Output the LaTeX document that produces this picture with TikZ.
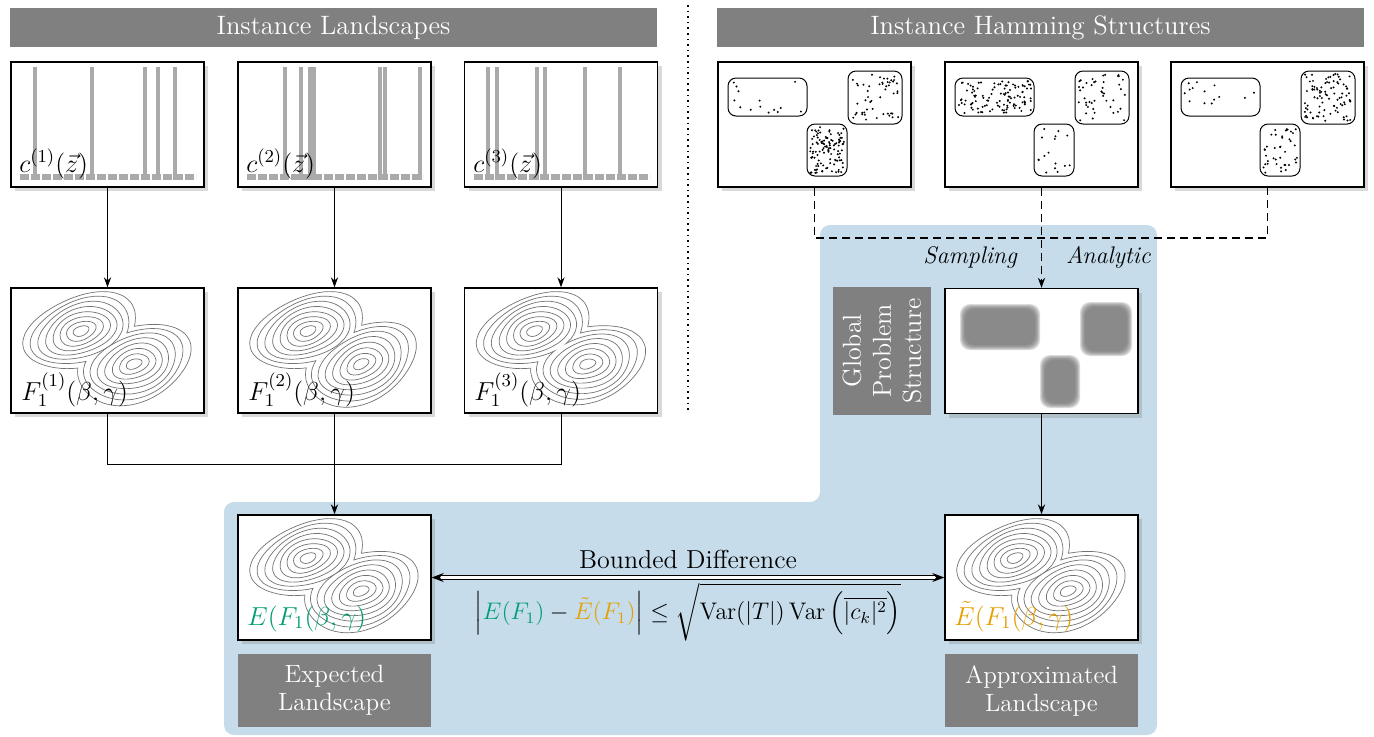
\RequirePackage{fix-cm}
\documentclass[tikz,border=0pt]{standalone}
\usepackage{amsmath}
\usepackage{tikz}
\usetikzlibrary{positioning,shadows,arrows.meta}

\definecolor{regionblue}{RGB}{198,220,234}
\definecolor{tealgreen}{RGB}{0,158,115}
\definecolor{amber}{RGB}{230,159,0}
\definecolor{bargray}{RGB}{170,170,170}
\definecolor{labelgray}{RGB}{128,128,128}

\newcommand{\lobe}[6]{plot[smooth cycle, domain=0:345, samples=24, variable=\t]
  ({#1+(1+0.035*sin(3*\t+#6))*((#3)*cos(\t)*cos(#5)-(#4)*sin(\t)*sin(#5))},
   {#2-(1+0.035*sin(3*\t+#6))*((#3)*cos(\t)*sin(#5)+(#4)*sin(\t)*cos(#5))})}

\newcommand{\contourplot}[3]{%
  \begin{scope}[shift={(#1,#2)}]
    \foreach \k in {1,...,8}{
      \begin{scope}[even odd rule]
        \clip (-10,-10) rectangle (205,135) \lobe{123}{76}{7.2*\k+1}{4.7*\k}{#3}{40*\k+90};
        \draw[isoline] \lobe{70}{43}{7.2*\k+1}{4.3*\k+0.5}{20}{40*\k};
      \end{scope}
      \begin{scope}[even odd rule]
        \clip (-10,-10) rectangle (205,135) \lobe{70}{43}{7.2*\k+1}{4.3*\k+0.5}{20}{40*\k};
        \draw[isoline] \lobe{123}{76}{7.2*\k+1}{4.7*\k}{#3}{40*\k+90};
      \end{scope}
    }
  \end{scope}}

\newcommand{\costbars}[2]{%
  \draw[bargray, line width=3pt, dash pattern=on 4.7pt off 0.8pt] ({#1+9},177) -- ({#1+185},177);
  \foreach \b in {#2}{\fill[bargray] ({#1+\b-2},67) rectangle ({#1+\b+2},180);}}

\newcommand{\sprinkle}[5]{%
  \foreach \i in {1,...,#5}{\fill ({#1+3+rnd*(#3-#1-6)},{#2+3+rnd*(#4-#2-6)}) circle (0.55pt);}}

\newcommand{\hammingset}[5]{%
  \begin{scope}[shift={(#1,#2)}]
    \draw[cluster] (10,16) rectangle (89,54);
    \draw[cluster] (130,9) rectangle (184,62);
    \draw[cluster] (89,62) rectangle (129,114);
    \sprinkle{10}{16}{89}{54}{#3}
    \sprinkle{130}{9}{184}{62}{#4}
    \sprinkle{89}{62}{129}{114}{#5}
  \end{scope}}

\newcommand{\blurblob}[4]{%
  \foreach \s in {0,...,5}{\fill[black!55, opacity=0.25, rounded corners=5pt] ({#1+\s},{#2+\s}) rectangle ({#3-\s},{#4-\s});}}

\begin{document}
\begin{tikzpicture}[x=0.5pt, y=-0.5pt,
    panel/.style={rectangle, draw=black, line width=0.7pt, fill=white, minimum width=96.5pt, minimum height=62.5pt, inner sep=0pt, drop shadow={shadow xshift=2pt, shadow yshift=-2pt, opacity=0.3}},
    header/.style={rectangle, fill=labelgray, text=white, minimum width=323.5pt, minimum height=19.5pt, font=\fontsize{13.3}{16}\selectfont},
    tag/.style={rectangle, fill=labelgray, text=white, align=center, minimum width=96.5pt, minimum height=36.5pt, inner sep=0pt, font=\fontsize{12.5}{14}\selectfont},
    boxlabel/.style={anchor=base west, inner sep=0pt, font=\fontsize{13}{15}\selectfont},
    isoline/.style={draw=black!55, line width=0.35pt},
    cluster/.style={draw=black, line width=0.5pt, rounded corners=4pt},
    arrow/.style={-{Stealth[length=5pt, width=3.6pt]}},
    link/.style={line width=0.5pt},
    dashline/.style={line width=0.8pt, dash pattern=on 4pt off 2.5pt}
]
\useasboundingbox (0,0) rectangle (1374,736);
\pgfmathsetseed{12}

\fill[regionblue, rounded corners=5pt] (820,225) -- (1157,225) -- (1157,735) -- (224,735) -- (224,502) -- (820,502) -- cycle;

\coordinate (divtop) at (688,5);
\coordinate (divbot) at (688,410);
\draw[line width=0.8pt, dotted] (divtop) -- (divbot);

\node[header] (hdrland) at (333.5,27.5) {Instance Landscapes};
\node[header] (hdrham)  at (1040.5,27.5) {Instance Hamming Structures};

\node[panel] (c1) at (107.5,124.5) {};
\node[panel] (c2) at (334.5,124.5) {};
\node[panel] (c3) at (561,124.5) {};
\costbars{11}{24,81,134,147,164}
\costbars{238}{47,63,72,76,142,147,182}
\costbars{464.5}{23,32,72,80,120,155}
\node[boxlabel] (c1lab) at (19,172)  {$c^{(1)}(\vec{z})$};
\node[boxlabel] (c2lab) at (246,172) {$c^{(2)}(\vec{z})$};
\node[boxlabel] (c3lab) at (473,172) {$c^{(3)}(\vec{z})$};

\node[panel] (f1) at (107.5,350.5) {};
\node[panel] (f2) at (334.5,350.5) {};
\node[panel] (f3) at (561,350.5) {};
\contourplot{11}{288}{20}
\contourplot{238}{288}{26}
\contourplot{464.5}{288}{16}
\node[boxlabel] (f1lab) at (21,400)  {$F_1^{(1)}(\beta,\gamma)$};
\node[boxlabel] (f2lab) at (248,400) {$F_1^{(2)}(\beta,\gamma)$};
\node[boxlabel] (f3lab) at (474,400) {$F_1^{(3)}(\beta,\gamma)$};

\node[panel] (expbox) at (334.5,577.5) {};
\contourplot{238}{515}{20}
\node[boxlabel, text=tealgreen] (explab) at (247,625) {$E(F_1(\beta,\gamma)$};
\node[tag] (expname) at (334.5,690.5) {Expected\\Landscape};

\node[panel] (ham1) at (814.5,124.5) {};
\node[panel] (ham2) at (1041.5,124.5) {};
\node[panel] (ham3) at (1267.5,124.5) {};
\hammingset{718}{62}{14}{50}{110}
\hammingset{945}{62}{110}{45}{16}
\hammingset{1171}{62}{14}{90}{40}

\node[panel] (blur) at (1041.5,351) {};
\blurblob{960}{304}{1040}{350}
\blurblob{1080}{302}{1132}{356}
\blurblob{1040}{355}{1080}{408}
\node[tag, rotate=90, minimum width=64pt, minimum height=49pt, font=\fontsize{13}{15}\selectfont] (globalstruct) at (882,351) {Global\\Problem\\Structure};

\node[panel] (apxbox) at (1041.5,577.5) {};
\contourplot{945}{515}{20}
\node[boxlabel, text=amber] (apxlab) at (954,625) {$\tilde{E}(F_1(\beta,\gamma)$};
\node[tag] (apxname) at (1041.5,690.5) {Approximated\\Landscape};

\node[anchor=east, font=\fontsize{12}{14}\selectfont\itshape] (sampling) at (1024,257) {Sampling};
\node[anchor=west, font=\fontsize{12}{14}\selectfont\itshape] (analytic) at (1059,257) {Analytic};

\draw[link, arrow] (c1) -- (f1);
\draw[link, arrow] (c2) -- (f2);
\draw[link, arrow] (c3) -- (f3);

\coordinate (mergebar) at (334.5,464);
\draw[link] (f1.south) |- (mergebar) -| (f3.south);
\draw[line width=0.7pt, arrow] (f2) -- (expbox);

\coordinate (dashbar) at (1041.5,238);
\draw[dashline] (ham1.south) |- (dashbar) -| (ham3.south);
\draw[dashline, arrow] (ham2) -- (blur);
\draw[link, arrow] (blur) -- (apxbox);

\draw[{Stealth[length=6pt, width=4.5pt]}-{Stealth[length=6pt, width=4.5pt]}, double, double distance=1.2pt, line width=0.45pt] (expbox) -- (apxbox);
\node[inner sep=1pt, font=\fontsize{13}{15}\selectfont] (bdiff) at (688,559) {Bounded Difference};
\node[inner sep=1pt, font=\fontsize{12}{14}\selectfont] (bound) at (688,612) {$\left|{\color{tealgreen}E(F_1)} - {\color{amber}\tilde{E}(F_1)}\right| \le \sqrt{\mathrm{Var}(|T|)\,\mathrm{Var}\left(\overline{|c_k|^2}\right)}$};
\end{tikzpicture}
\end{document}
